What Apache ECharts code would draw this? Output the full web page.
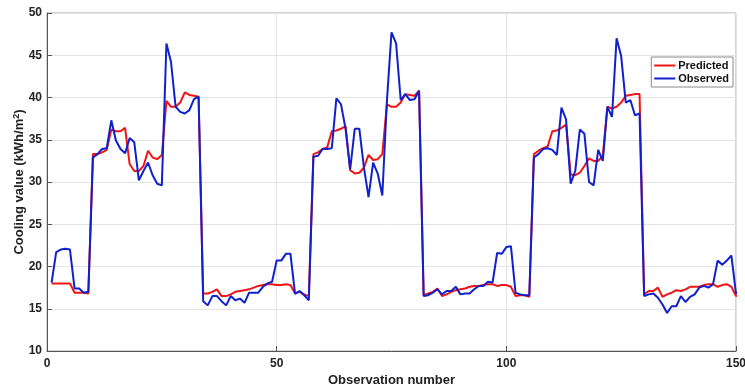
<!DOCTYPE html>
<html>
<head>
<meta charset="utf-8">
<script src="https://cdn.jsdelivr.net/npm/echarts@6/dist/echarts.min.js"></script>
<style>
html,body{margin:0;padding:0;background:#fff;}
#chart{width:745px;height:391px;}
</style>
</head>
<body>
<div id="chart"></div>
<script>
// Observation numbers run 1..152 (the last two points are drawn just past the 150 tick)
const observed = [
  18.1, 21.7, 22.0, 22.1, 22.0, 17.4, 17.4, 16.9, 17.0, 32.9,
  33.3, 33.9, 34.0, 37.3, 34.9, 33.9, 33.4, 35.2, 34.7, 30.2,
  31.3, 32.3, 30.8, 29.8, 29.6, 46.4, 44.2, 38.9, 38.3, 38.1,
  38.5, 39.8, 40.1, 15.9, 15.4, 16.5, 16.5, 15.9, 15.4, 16.5,
  16.0, 16.2, 15.7, 16.9, 16.9, 16.9, 17.6, 18.0, 18.2, 20.7,
  20.7, 21.5, 21.5, 16.8, 17.1, 16.6, 16.0, 33.0, 33.1, 33.9,
  33.9, 34.0, 39.9, 39.2, 36.3, 31.5, 36.3, 36.3, 31.7, 28.2,
  32.3, 31.0, 28.4, 39.6, 47.7, 46.4, 39.7, 40.4, 39.7, 39.8,
  40.8, 16.5, 16.6, 16.9, 17.3, 16.7, 17.1, 17.1, 17.6, 16.7,
  16.8, 16.8, 17.3, 17.7, 17.7, 18.2, 18.1, 21.6, 21.5, 22.3,
  22.4, 16.9, 16.7, 16.6, 16.6, 32.9, 33.3, 33.9, 34.0, 33.8,
  33.2, 38.8, 37.4, 29.8, 31.3, 36.2, 35.7, 30.0, 29.6, 33.8,
  32.5, 38.9, 37.7, 47.0, 44.9, 39.4, 39.7, 37.9, 38.1, 16.5,
  16.7, 16.8, 16.3, 15.5, 14.5, 15.3, 15.3, 16.5, 15.8, 16.4,
  16.7, 17.5, 17.7, 17.5, 17.9, 20.7, 20.2, 20.7, 21.3, 16.8,
  16.9, 16.6
];
const predicted = [
  18.0, 18.0, 18.0, 18.0, 18.0, 16.9, 16.9, 16.9, 16.8, 33.3,
  33.3, 33.5, 33.8, 36.2, 36.0, 36.0, 36.4, 32.1, 31.3, 31.3,
  31.9, 33.7, 32.9, 32.7, 33.2, 39.6, 38.9, 38.9, 39.4, 40.6,
  40.3, 40.2, 40.1, 16.8, 16.8, 17.0, 17.3, 16.5, 16.5, 16.7,
  17.0, 17.1, 17.2, 17.3, 17.5, 17.7, 17.8, 17.9, 17.9, 17.8,
  17.8, 17.9, 17.8, 16.8, 17.0, 16.7, 16.5, 33.3, 33.5, 33.9,
  34.1, 36.0, 36.1, 36.3, 36.6, 31.4, 31.0, 31.1, 31.7, 33.2,
  32.6, 32.7, 33.3, 39.2, 38.9, 38.9, 39.4, 40.4, 40.3, 40.2,
  40.8, 16.6, 16.8, 17.0, 17.4, 16.5, 16.7, 17.0, 17.2, 17.3,
  17.4, 17.6, 17.7, 17.7, 17.8, 17.9, 17.9, 17.7, 17.8, 17.8,
  17.6, 16.5, 16.6, 16.6, 16.4, 33.3, 33.7, 34.0, 34.2, 36.0,
  36.1, 36.4, 36.8, 30.9, 30.8, 31.1, 31.9, 32.8, 32.5, 32.5,
  33.1, 38.9, 38.7, 38.9, 39.4, 40.2, 40.3, 40.4, 40.4, 16.7,
  17.1, 17.1, 17.5, 16.4, 16.7, 16.9, 17.2, 17.1, 17.3, 17.6,
  17.6, 17.6, 17.8, 17.9, 17.9, 17.6, 17.8, 17.9, 17.6, 16.5,
  16.7, 16.8
];
const xTicks = [0, 50, 100, 150];
const yTicks = [10, 15, 20, 25, 30, 35, 40, 45, 50];
const seriesNames = ['Predicted', 'Observed'];

const toPairs = arr => arr.map((v, i) => [i + 1, v]);
const FONT = '"Liberation Sans", Arial, sans-serif';

const chart = echarts.init(document.getElementById('chart'), null, {renderer: 'canvas'});
chart.setOption({
  backgroundColor: '#ffffff',
  animation: false,
  grid: {
    left: 47, right: 9, top: 13, bottom: 40,
    outerBoundsMode: 'none',
    containLabel: false,
    show: true, borderColor: '#a8a8a8', borderWidth: 1, backgroundColor: '#ffffff'
  },
  legend: {
    orient: 'vertical',
    right: 12, top: 57,
    data: seriesNames,
    icon: 'rect',
    itemWidth: 21, itemHeight: 2,
    itemGap: 2,
    padding: [3, 4, 3, 3],
    borderColor: '#8a8a8a', borderWidth: 1, backgroundColor: '#ffffff',
    textStyle: {fontFamily: FONT, fontWeight: 'bold', fontSize: 11, color: '#111', padding: [0, 0, 0, -2]}
  },
  xAxis: {
    type: 'value',
    min: xTicks[0], max: xTicks[xTicks.length - 1], interval: 50,
    name: 'Observation number',
    nameLocation: 'middle', nameGap: 23,
    nameMoveOverlap: false,
    nameTextStyle: {fontFamily: FONT, fontWeight: 'bold', fontSize: 13, color: '#222'},
    axisLine: {show: true, lineStyle: {color: '#555', width: 1}},
    axisTick: {show: true, inside: true, length: 5, lineStyle: {color: '#555'}},
    axisLabel: {fontFamily: FONT, fontWeight: 'bold', fontSize: 12, color: '#222', margin: 7},
    splitLine: {show: true, lineStyle: {color: '#e4e4e4', width: 1}}
  },
  yAxis: {
    type: 'value',
    min: yTicks[0], max: yTicks[yTicks.length - 1], interval: 5,
    name: 'Cooling value (kWh/m{sup|2})',
    nameLocation: 'middle', nameGap: 20, nameRotate: 90,
    nameMoveOverlap: false,
    nameTextStyle: {
      fontFamily: FONT, fontWeight: 'bold', fontSize: 13, color: '#222',
      rich: {sup: {fontFamily: FONT, fontWeight: 'bold', fontSize: 9, color: '#222', verticalAlign: 'top', padding: [0, 0, 6, 0]}}
    },
    axisLine: {show: true, lineStyle: {color: '#555', width: 1}},
    axisTick: {show: true, inside: true, length: 5, lineStyle: {color: '#555'}},
    axisLabel: {fontFamily: FONT, fontWeight: 'bold', fontSize: 12, color: '#222', margin: 5},
    splitLine: {show: true, lineStyle: {color: '#e4e4e4', width: 1}}
  },
  series: [
    {
      name: seriesNames[0], type: 'line', data: toPairs(predicted),
      symbol: 'none', clip: false,
      lineStyle: {color: '#f01414', width: 2}, itemStyle: {color: '#f01414'}
    },
    {
      name: seriesNames[1], type: 'line', data: toPairs(observed),
      symbol: 'none', clip: false,
      lineStyle: {color: '#1020cc', width: 2}, itemStyle: {color: '#1020cc'}
    }
  ]
});
</script>
</body>
</html>
